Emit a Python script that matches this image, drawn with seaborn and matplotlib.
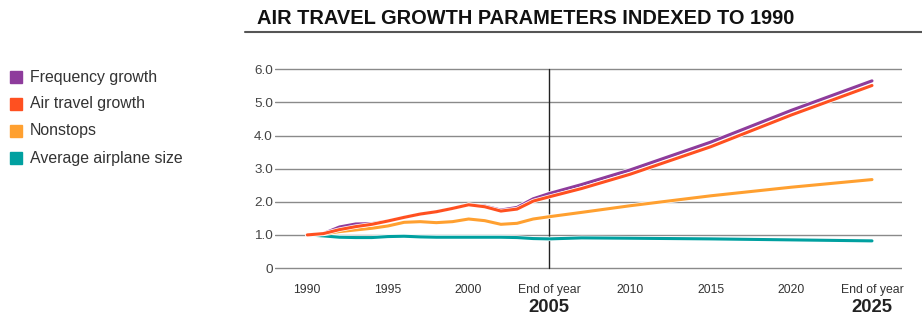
import pandas as pd
import seaborn as sns
import matplotlib.pyplot as plt
import matplotlib.patheffects as pe
from matplotlib.patches import Rectangle
from matplotlib.lines import Line2D

# Values (index, 1990 = 1.0)
years = [1990, 1991, 1992, 1993, 1994, 1995, 1996, 1997, 1998, 1999, 2000,
         2001, 2002, 2003, 2004, 2005, 2007, 2010, 2015, 2020, 2025]
frequency_growth = [1.00, 1.04, 1.24, 1.33, 1.34, 1.42, 1.53, 1.63, 1.70, 1.80, 1.91,
                    1.87, 1.75, 1.83, 2.09, 2.25, 2.52, 2.96, 3.80, 4.76, 5.65]
air_travel_growth = [1.00, 1.04, 1.16, 1.25, 1.32, 1.42, 1.53, 1.63, 1.70, 1.80, 1.91,
                     1.85, 1.72, 1.78, 2.02, 2.15, 2.40, 2.83, 3.66, 4.62, 5.51]
nonstops = [1.00, 1.03, 1.10, 1.15, 1.20, 1.27, 1.38, 1.40, 1.37, 1.40, 1.48,
            1.43, 1.32, 1.35, 1.48, 1.55, 1.68, 1.88, 2.18, 2.44, 2.67]
airplane_size = [1.00, 0.97, 0.93, 0.92, 0.92, 0.95, 0.96, 0.94, 0.93, 0.93, 0.93,
                 0.93, 0.93, 0.92, 0.89, 0.88, 0.91, 0.90, 0.88, 0.85, 0.82]

series_names = ['Frequency growth', 'Air travel growth', 'Nonstops', 'Average airplane size']
series_colors = ['#8E3C9C', '#FF5020', '#FFA030', '#00A0A0']
x_ticks = [1990, 1995, 2000, 2005, 2010, 2015, 2020, 2025]
x_tick_labels = ['1990', '1995', '2000', 'End of year', '2010', '2015', '2020', 'End of year']
bold_years = [2005, 2025]
y_ticks = [0, 1, 2, 3, 4, 5, 6]
y_tick_labels = ['0', '1.0', '2.0', '3.0', '4.0', '5.0', '6.0']

df = pd.DataFrame({
    'year': years * 4,
    'value': frequency_growth + air_travel_growth + nonstops + airplane_size,
    'series': sum([[n] * len(years) for n in series_names], []),
})

sns.set_theme(style='white')
plt.rcParams['font.family'] = ['Liberation Sans', 'DejaVu Sans']

fig = plt.figure(figsize=(9.22, 3.18), dpi=100)
W, H = 922, 318
# axes box in pixels: x 275..902, y 67.6..269.7 (ylim padded a bit so edge gridlines show)
ax = fig.add_axes([275 / W, 1 - 269.7 / H, (902 - 275) / W, (269.7 - 67.6) / H])

# gridlines + 2005 marker
for yv in y_ticks:
    ax.axhline(yv, color='#8a8a8a', lw=1, zorder=0)
ax.plot([2005, 2005], [0, 6], color='#222222', lw=1, zorder=1)

# draw order: teal, orange, purple, red (red sits on top)
order = ['Average airplane size', 'Nonstops', 'Frequency growth', 'Air travel growth']
palette = dict(zip(series_names, series_colors))
for name in order:
    sns.lineplot(data=df[df['series'] == name], x='year', y='value', color=palette[name],
                 lw=2.2, ax=ax, legend=False, zorder=3,
                 path_effects=[pe.Stroke(linewidth=3.2, foreground='white'), pe.Normal()])

ax.set_xlim(1988.0, 2026.86)
ax.set_ylim(-0.05, 6.05)
ax.set_xticks(x_ticks)
ax.set_xticklabels(x_tick_labels, fontsize=8.8, color='#333333')
ax.set_yticks(y_ticks)
ax.set_yticklabels(y_tick_labels, fontsize=9.7, color='#444444')
ax.tick_params(axis='x', length=0, pad=10)
ax.tick_params(axis='y', length=0, pad=1.5)
ax.set_xlabel('')
ax.set_ylabel('')
for s in ax.spines.values():
    s.set_visible(False)

for yr in bold_years:
    ax.annotate(str(yr), xy=(yr, 0), xycoords=('data', 'axes fraction'),
                xytext=(0, -27), textcoords='offset points', ha='center', va='center',
                fontsize=13.3, fontweight='bold', color='#222222')

# title and rule
fig.text(257 / W, 1 - 18 / H, 'AIR TRAVEL GROWTH PARAMETERS INDEXED TO 1990',
         fontsize=14.4, fontweight='bold', color='#111111', va='center', ha='left')
fig.add_artist(Line2D([245 / W, 1.0], [1 - 32 / H, 1 - 32 / H], color='#555555', lw=1.5,
                      transform=fig.transFigure))

# legend on the left
for i, (name, color) in enumerate(zip(series_names, series_colors)):
    yc = 77 + 27 * i
    fig.add_artist(Rectangle((10 / W, 1 - (yc + 6) / H), 12 / W, 12 / H, color=color,
                             transform=fig.transFigure))
    fig.text(30 / W, 1 - yc / H, name, fontsize=11.4, color='#333333', va='center', ha='left')

plt.savefig('out.png', dpi=100)
plt.close()
